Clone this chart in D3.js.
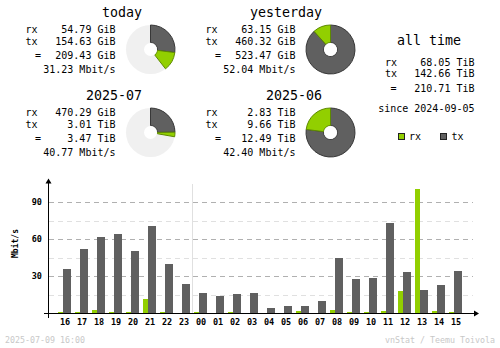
<!DOCTYPE html>
<html><head><meta charset="utf-8">
<script src="https://cdn.jsdelivr.net/npm/d3@7"></script>
<style>
html,body{margin:0;padding:0;background:#fff;}
svg{display:block;}
text{font-family:"DejaVu Sans Mono",monospace;}
</style></head>
<body>
<script>
// ---- summary data ----
const periods   = ["today", "yesterday", "2025-07", "2025-06"];
const rxText    = ["54.79 GiB", "63.15 GiB", "470.29 GiB", "2.83 TiB"];
const txText    = ["154.63 GiB", "460.32 GiB", "3.01 TiB", "9.66 TiB"];
const totalText = ["209.43 GiB", "523.47 GiB", "3.47 TiB", "12.49 TiB"];
const rateText  = ["31.23 Mbit/s", "52.04 Mbit/s", "40.77 Mbit/s", "42.40 Mbit/s"];
// pie shares (fraction of full circle)
const pieTx = [0.27, 0.883, 0.248, 0.77];
const pieRx = [0.125, 0.117, 0.03, 0.23];

const allTimeLabels = ["rx", "tx", "="];
const allTimeValues = ["68.05 TiB", "142.66 TiB", "210.71 TiB"];
const sinceText = "since 2024-09-05";

// ---- hourly chart data (Mbit/s) ----
const hours  = ["16","17","18","19","20","21","22","23","00","01","02","03","04","05","06","07","08","09","10","11","12","13","14","15"];
const rxRate = [0.8,0.8,2.7,0.8,0.8,11.6,0.8,0,0.8,0,0.8,0,0,0,1.9,0,2.7,0.8,0.8,1.9,18.1,100.8,1.9,0.8];
const txRate = [35.9,52.1,61.9,64.3,50.5,70.8,40.0,23.8,16.5,14.0,15.7,16.5,4.3,5.9,5.9,10.0,44.8,27.8,28.6,73.2,33.5,18.9,23.0,34.3];
const yTicks = [30, 60, 90];
const yMinor = [15, 45, 75];

const W = 500, H = 348;
const cRx = "#92CF00", cTx = "#606060", cRxD = "#5E8A00", cTxD = "#383838";
const cBgOff = "#F0F0F0";

const svg = d3.select("body").append("svg").attr("width", W).attr("height", H);
svg.append("rect").attr("width", W).attr("height", H).attr("fill", "#fff");

// ---- summary blocks ----
const blocks = periods.map((p, i) => ({ i, dx: (i % 2) * 180, dy: Math.floor(i / 2) * 83 }));
const arcGen = d3.arc();
blocks.forEach(b => {
  const g = svg.append("g").attr("transform", `translate(${b.dx},${b.dy})`);
  g.append("text").attr("x", 142).attr("y", 16.5).attr("text-anchor", "end")
    .attr("font-size", 13.3).text(periods[b.i]);
  const rows = [["rx", rxText[b.i], 33], ["tx", txText[b.i], 45], ["=", totalText[b.i], 58.5]];
  rows.forEach(r => {
    g.append("text").attr("x", r[0] === "=" ? 38 : 25.5).attr("y", r[2])
      .attr("text-anchor", r[0] === "=" ? "middle" : "start").attr("font-size", 10).text(r[0]);
    g.append("text").attr("x", 115.5).attr("y", r[2]).attr("text-anchor", "end")
      .attr("font-size", 10).text(r[1]);
  });
  g.append("text").attr("x", 115.5).attr("y", 73).attr("text-anchor", "end")
    .attr("font-size", 10).text(rateText[b.i]);

  // donut
  const pg = g.append("g").attr("transform", "translate(150.5,49.5)");
  const R = 24.5, r0 = 7;
  pg.append("circle").attr("r", R).attr("fill", cBgOff);
  const txEnd = 2 * Math.PI * pieTx[b.i];
  const rxEnd = txEnd + 2 * Math.PI * pieRx[b.i];
  pg.append("path").attr("d", arcGen({ innerRadius: r0, outerRadius: R, startAngle: 0, endAngle: txEnd }))
    .attr("fill", cTx).attr("stroke", cTxD).attr("stroke-width", 1);
  pg.append("path").attr("d", arcGen({ innerRadius: r0, outerRadius: R, startAngle: txEnd, endAngle: rxEnd }))
    .attr("fill", cRx).attr("stroke", cRxD).attr("stroke-width", 1);
  pg.append("circle").attr("r", r0 - 0.5).attr("fill", "#fff");
});

// ---- all time ----
svg.append("text").attr("x", 429).attr("y", 45).attr("text-anchor", "middle")
  .attr("font-size", 13.3).text("all time");
const atY = [65.8, 76.8, 92];
allTimeLabels.forEach((l, i) => {
  svg.append("text").attr("x", l === "=" ? 393.5 : 385).attr("y", atY[i])
    .attr("text-anchor", l === "=" ? "middle" : "start").attr("font-size", 10).text(l);
  svg.append("text").attr("x", 474.5).attr("y", atY[i]).attr("text-anchor", "end")
    .attr("font-size", 10).text(allTimeValues[i]);
});
svg.append("text").attr("x", 474.5).attr("y", 111.8).attr("text-anchor", "end")
  .attr("font-size", 10).text(sinceText);

// legend
const legend = [["rx", cRx, 398, 409], ["tx", cTx, 440, 451.5]];
legend.forEach(l => {
  svg.append("rect").attr("x", l[2] + 0.5).attr("y", 133.5).attr("width", 6).attr("height", 6)
    .attr("fill", l[1]).attr("stroke", "#222").attr("stroke-width", 1);
  svg.append("text").attr("x", l[3]).attr("y", 140).attr("font-size", 10).text(l[0]);
});

// ---- hourly bar chart ----
const x = d3.scaleBand().domain(hours).range([55, 55 + 17 * hours.length]).padding(0);
const y = d3.scaleLinear().domain([0, 90]).range([313, 202]);
const chart = svg.append("g").attr("shape-rendering", "crispEdges");

// minor grid
yMinor.forEach(v => {
  chart.append("line").attr("x1", 49).attr("x2", 473).attr("y1", Math.round(y(v)) + 0.5).attr("y2", Math.round(y(v)) + 0.5)
    .attr("stroke", "#E0E0E0").attr("stroke-dasharray", "5,4");
});
yTicks.forEach(v => {
  chart.append("line").attr("x1", 49).attr("x2", 473).attr("y1", Math.round(y(v)) + 0.5).attr("y2", Math.round(y(v)) + 0.5)
    .attr("stroke", "#B0B0B0").attr("stroke-dasharray", "5,4");
});
// day separator
chart.append("line").attr("x1", x("00") + 1.5).attr("x2", x("00") + 1.5).attr("y1", 184).attr("y2", 313)
  .attr("stroke", "#E0E0E0");

// bars
hours.forEach((h, i) => {
  const bx = x(h);
  if (txRate[i] > 0) chart.append("rect").attr("x", bx + 8).attr("width", 8)
    .attr("y", y(txRate[i])).attr("height", y(0) - y(txRate[i])).attr("fill", cTx);
  if (rxRate[i] > 0) chart.append("rect").attr("x", bx + 3).attr("width", 5)
    .attr("y", y(rxRate[i])).attr("height", y(0) - y(rxRate[i])).attr("fill", cRx);
});

// axes
chart.append("line").attr("x1", 48.5).attr("x2", 48.5).attr("y1", 181).attr("y2", 318).attr("stroke", "#000");
chart.append("line").attr("x1", 44).attr("x2", 477).attr("y1", 313.5).attr("y2", 313.5).attr("stroke", "#000");
svg.append("path").attr("d", "M48.5,178.5 L45.5,183.5 L51.5,183.5 Z").attr("fill", "#000");
svg.append("path").attr("d", "M479,313.5 L474,310.5 L474,316.5 Z").attr("fill", "#000");

// y labels
yTicks.forEach(v => {
  svg.append("text").attr("x", 42).attr("y", y(v) + 3).attr("text-anchor", "end")
    .attr("font-size", 8.5).attr("font-weight", "bold").text(d3.format("d")(v));
});
// hour labels
hours.forEach(h => {
  svg.append("text").attr("x", x(h) + 10).attr("y", 324.5).attr("text-anchor", "middle")
    .attr("font-size", 8.5).attr("font-weight", "bold").text(h);
});
// axis title
svg.append("text").attr("transform", "translate(18,243.5) rotate(-90)").attr("text-anchor", "middle")
  .attr("font-size", 8).attr("font-weight", "bold").text("Mbit/s");

// footer
svg.append("text").attr("x", 5).attr("y", 343).attr("font-size", 8.3).attr("fill", "#C8C8C8").text("2025-07-09 16:00");
svg.append("text").attr("x", 495).attr("y", 343).attr("text-anchor", "end").attr("font-size", 8.3).attr("fill", "#C8C8C8").text("vnStat / Teemu Toivola");
</script>
</body></html>
